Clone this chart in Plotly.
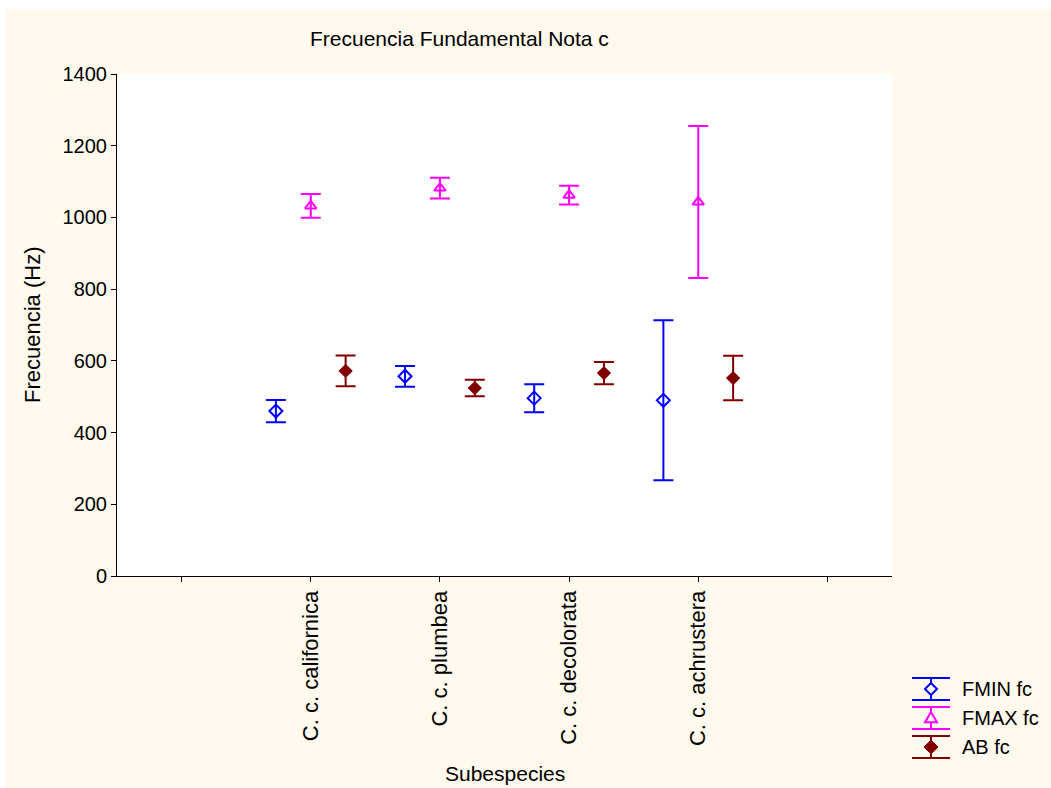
import numpy as np
import plotly.graph_objects as go

# ---- data ----
categories = ["C. c. californica", "C. c. plumbea", "C. c. decolorata", "C. c. achrustera"]
cat_pos = [1, 2, 3, 4]
axis_ticks = [0, 1, 2, 3, 4, 5]

series_names = ["FMIN fc", "FMAX fc", "AB fc"]
fmin_mean = [460, 557, 496, 490]
fmin_err = [31, 29, 39, 223]
fmax_mean = [1032, 1082, 1062, 1043]
fmax_err = [33, 29, 26, 212]
ab_mean = [572, 524, 566, 552]
ab_err = [43, 23, 31, 62]

y_ticks = [0, 200, 400, 600, 800, 1000, 1200, 1400]

# ---- styling ----
W, H = 1051, 788
L, R, T, B = 117, 159, 74, 212
FONT = "Arial, Liberation Sans, sans-serif"
CREAM = "#FFF9EE"
BLUE, MAG, DRED = "#0000FF", "#FF00FF", "#800000"
offset = 0.27

pw, ph = W - L - R, H - T - B


def px_x(p):
    return (p - L) / pw


def px_y(p):
    return (H - B - p) / ph


pos = np.array(cat_pos, dtype=float)

fig = go.Figure()

fig.add_trace(go.Scatter(
    x=pos - offset, y=fmin_mean, mode="markers", name=series_names[0],
    marker=dict(symbol="diamond-open", size=10, color=BLUE, line=dict(width=2)),
    error_y=dict(type="data", array=fmin_err, visible=True, color=BLUE, thickness=2, width=10),
))
fig.add_trace(go.Scatter(
    x=pos, y=fmax_mean, mode="markers", name=series_names[1],
    marker=dict(symbol="triangle-up-open", size=10, color=MAG, line=dict(width=2)),
    error_y=dict(type="data", array=fmax_err, visible=True, color=MAG, thickness=2, width=10),
))
fig.add_trace(go.Scatter(
    x=pos + offset, y=ab_mean, mode="markers", name=series_names[2],
    marker=dict(symbol="diamond", size=11, color=DRED, line=dict(width=0)),
    error_y=dict(type="data", array=ab_err, visible=True, color=DRED, thickness=2, width=10),
))

ticktext = [""] + categories + [""]

annotations = [
    dict(text="Frecuencia Fundamental Nota c", xref="paper", yref="paper",
         x=px_x(459), y=px_y(38), xanchor="center", yanchor="middle", showarrow=False,
         font=dict(family=FONT, size=21, color="#000000")),
    dict(text="Frecuencia (Hz)", xref="paper", yref="paper",
         x=px_x(32), y=0.5, textangle=-90, xanchor="center", yanchor="middle", showarrow=False,
         font=dict(family=FONT, size=22, color="#000000")),
    dict(text="Subespecies", xref="paper", yref="paper",
         x=0.5, y=px_y(773), xanchor="center", yanchor="middle", showarrow=False,
         font=dict(family=FONT, size=21, color="#000000")),
]

# ---- hand-built legend with error-bar glyphs ----
shapes = []
leg_cx, leg_half = 931, 19
leg_rows = [689, 718, 747]
leg_colors = [BLUE, MAG, DRED]
for name, cy, col in zip(series_names, leg_rows, leg_colors):
    for yy in (cy - 11, cy + 11):
        shapes.append(dict(type="line", xref="paper", yref="paper",
                           x0=px_x(leg_cx - leg_half), x1=px_x(leg_cx + leg_half),
                           y0=px_y(yy), y1=px_y(yy), line=dict(color=col, width=2)))
    shapes.append(dict(type="line", xref="paper", yref="paper",
                       x0=px_x(leg_cx), x1=px_x(leg_cx), y0=px_y(cy - 11), y1=px_y(cy + 11),
                       line=dict(color=col, width=2)))
    annotations.append(dict(text=name, xref="paper", yref="paper", x=px_x(960), y=px_y(cy),
                            xanchor="left", yanchor="middle", showarrow=False,
                            font=dict(family=FONT, size=20, color="#000000")))


def diamond_path(cx, cy, r):
    return (f"M {px_x(cx)},{px_y(cy - r)} L {px_x(cx + r)},{px_y(cy)} "
            f"L {px_x(cx)},{px_y(cy + r)} L {px_x(cx - r)},{px_y(cy)} Z")


def triangle_path(cx, cy, r):
    return (f"M {px_x(cx)},{px_y(cy - r)} L {px_x(cx + r)},{px_y(cy + r * 0.7)} "
            f"L {px_x(cx - r)},{px_y(cy + r * 0.7)} Z")


shapes.append(dict(type="path", xref="paper", yref="paper", path=diamond_path(leg_cx, leg_rows[0], 6),
                   fillcolor=CREAM, line=dict(color=BLUE, width=2)))
shapes.append(dict(type="path", xref="paper", yref="paper", path=triangle_path(leg_cx, leg_rows[1], 6),
                   fillcolor=CREAM, line=dict(color=MAG, width=2)))
shapes.append(dict(type="path", xref="paper", yref="paper", path=diamond_path(leg_cx, leg_rows[2], 7),
                   fillcolor=DRED, line=dict(color=DRED, width=1)))

# white edge strips at the top and left of the picture
shapes.append(dict(type="rect", xref="paper", yref="paper",
                   x0=px_x(0), x1=px_x(W), y0=px_y(9), y1=px_y(0),
                   fillcolor="#FFFFFF", line=dict(width=0), layer="above"))
shapes.append(dict(type="rect", xref="paper", yref="paper",
                   x0=px_x(0), x1=px_x(5), y0=px_y(H), y1=px_y(0),
                   fillcolor="#FFFFFF", line=dict(width=0), layer="above"))

fig.update_layout(
    width=W, height=H,
    margin=dict(l=L, r=R, t=T, b=B, autoexpand=False),
    paper_bgcolor=CREAM,
    plot_bgcolor="#FFFFFF",
    font=dict(family=FONT, size=20, color="#000000"),
    showlegend=False,
    xaxis=dict(
        range=[-0.5, 5.5], tickmode="array", tickvals=axis_ticks, ticktext=ticktext,
        tickangle=-90, showgrid=False, zeroline=False, showline=True,
        linecolor="#000000", linewidth=1, ticks="outside", ticklen=5, tickcolor="#000000",
        tickfont=dict(family=FONT, size=22, color="#000000"),
    ),
    yaxis=dict(
        range=[0, 1400], tickmode="array", tickvals=y_ticks,
        showgrid=False, zeroline=False, showline=True,
        linecolor="#000000", linewidth=1, ticks="outside", ticklen=5, tickcolor="#000000",
        tickfont=dict(family=FONT, size=20, color="#000000"),
    ),
    annotations=annotations,
    shapes=shapes,
)

fig.write_html(
    "out.html",
    config={"displayModeBar": False},
    post_script="document.body.style.margin='0';document.body.style.overflow='hidden';"
                f"document.documentElement.style.background='{CREAM}';",
)
